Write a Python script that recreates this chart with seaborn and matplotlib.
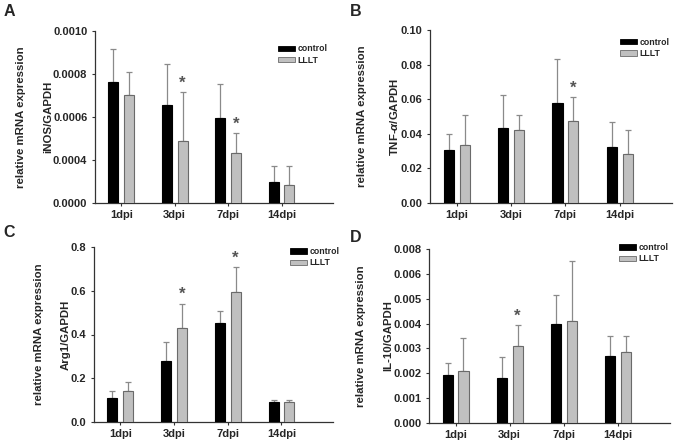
import numpy as np
import pandas as pd
import matplotlib
matplotlib.use("Agg")
import matplotlib.pyplot as plt
import seaborn as sns
from matplotlib.patches import Patch

sns.set_style("white")
plt.rcParams['font.family'] = ['Liberation Sans', 'DejaVu Sans']
plt.rcParams['font.weight'] = 'bold'
plt.rcParams['mathtext.fontset'] = 'custom'
plt.rcParams['mathtext.it'] = 'Liberation Sans:bold:italic'
plt.rcParams['mathtext.rm'] = 'Liberation Sans:bold'

days = ["1dpi", "3dpi", "7dpi", "14dpi"]
groups = ["control", "LLLT"]

# Panel A: iNOS
inos_ctrl = [0.000761, 0.000653, 0.000595, 0.000296]
inos_ctrl_err = [0.000155, 0.000190, 0.000158, 0.000076]
inos_lllt = [0.000702, 0.000485, 0.000431, 0.000281]
inos_lllt_err = [0.000104, 0.000228, 0.000093, 0.000091]
inos_sig = [False, True, True, False]

# Panel B: TNF-alpha
tnf_ctrl = [0.0305, 0.043, 0.058, 0.0325]
tnf_ctrl_err = [0.009, 0.0195, 0.025, 0.0145]
tnf_lllt = [0.0335, 0.042, 0.0475, 0.028]
tnf_lllt_err = [0.0172, 0.0086, 0.0135, 0.0141]
tnf_sig = [False, False, True, False]

# Panel C: Arg1
arg_ctrl = [0.107, 0.278, 0.454, 0.090]
arg_ctrl_err = [0.035, 0.086, 0.052, 0.009]
arg_lllt = [0.139, 0.428, 0.594, 0.089]
arg_lllt_err = [0.041, 0.114, 0.117, 0.011]
arg_sig = [False, True, True, False]

# Panel D: IL-10
il_ctrl = [0.00191, 0.00182, 0.00397, 0.00269]
il_ctrl_err = [0.00050, 0.00084, 0.00119, 0.00082]
il_lllt = [0.00209, 0.00308, 0.00410, 0.00284]
il_lllt_err = [0.00134, 0.00086, 0.00244, 0.00067]
il_sig = [False, True, False, False]

ticks_A = [0.0002, 0.0004, 0.0006, 0.0008, 0.0010]
labels_A = ["0.0000", "0.0004", "0.0006", "0.0008", "0.0010"]
ticks_B = [0.0, 0.02, 0.04, 0.06, 0.08, 0.10]
labels_B = ["0.00", "0.02", "0.04", "0.06", "0.08", "0.10"]
ticks_C = [0.0, 0.2, 0.4, 0.6, 0.8]
labels_C = ["0.0", "0.2", "0.4", "0.6", "0.8"]
ticks_D = [0.0, 0.001, 0.002, 0.003, 0.004, 0.005, 0.006, 0.007]
labels_D = ["0.000", "0.001", "0.002", "0.003", "0.004", "0.005", "0.006", "0.008"]

CTRL_COLOR = "#000000"
LLLT_COLOR = "#c0c0c0"
LLLT_EDGE = "#6a6a6a"
ERR_COLOR = "#8a8a8a"

W, H = 675, 446
fig = plt.figure(figsize=(W / 100, H / 100), dpi=100)


def px_axes(left, top, right, bottom):
    return fig.add_axes([left / W, 1 - bottom / H, (right - left) / W, (bottom - top) / H])


panels = [
    dict(box=(95, 30.7, 333, 202.7), ctrl=inos_ctrl, ce=inos_ctrl_err, lllt=inos_lllt, le=inos_lllt_err,
         sig=inos_sig, ticks=ticks_A, labels=labels_A, ylim=(0.0002, 0.0010),
         ylab="relative mRNA expression\niNOS/GAPDH", letter="A", lx=4, ly=12, leg=(0.77, 0.92)),
    dict(box=(430, 30.0, 672, 202.7), ctrl=tnf_ctrl, ce=tnf_ctrl_err, lllt=tnf_lllt, le=tnf_lllt_err,
         sig=tnf_sig, ticks=ticks_B, labels=labels_B, ylim=(0.0, 0.10),
         ylab="relative mRNA expression\nTNF-$\\alpha$/GAPDH", letter="B", lx=350, ly=12, leg=(0.785, 0.955)),
    dict(box=(94, 247.3, 333, 421.7), ctrl=arg_ctrl, ce=arg_ctrl_err, lllt=arg_lllt, le=arg_lllt_err,
         sig=arg_sig, ticks=ticks_C, labels=labels_C, ylim=(0.0, 0.8),
         ylab="relative mRNA expression\nArg1/GAPDH", letter="C", lx=3, ly=233, leg=(0.82, 1.0)),
    dict(box=(429, 249.3, 670, 422.7), ctrl=il_ctrl, ce=il_ctrl_err, lllt=il_lllt, le=il_lllt_err,
         sig=il_sig, ticks=ticks_D, labels=labels_D, ylim=(0.0, 0.007),
         ylab="relative mRNA expression\nIL-10/GAPDH", letter="D", lx=350, ly=237, leg=(0.79, 1.035)),
]

for p in panels:
    ax = px_axes(*p["box"])
    df = pd.DataFrame({
        "day": days * 2,
        "group": [groups[0]] * 4 + [groups[1]] * 4,
        "value": list(p["ctrl"]) + list(p["lllt"]),
    })
    sns.barplot(data=df, x="day", y="value", hue="group", order=days, hue_order=groups,
                palette=[CTRL_COLOR, LLLT_COLOR], errorbar=None, width=0.585, gap=0.36,
                linewidth=0.8, legend=False, ax=ax, zorder=3)
    bars = ax.patches
    xs_ctrl, xs_lllt = [], []
    for i, b in enumerate(bars):
        if i < 4:
            b.set_edgecolor("#000000")
            xs_ctrl.append(b.get_x() + b.get_width() / 2)
        else:
            b.set_edgecolor(LLLT_EDGE)
            xs_lllt.append(b.get_x() + b.get_width() / 2)
    for xs, vals, errs in [(xs_ctrl, p["ctrl"], p["ce"]), (xs_lllt, p["lllt"], p["le"])]:
        ax.errorbar(xs, vals, yerr=[np.zeros(len(errs)), errs], fmt="none", ecolor=ERR_COLOR,
                    elinewidth=0.9, capsize=2.5, capthick=0.9, zorder=2)
    for x, v, e, s in zip(xs_lllt, p["lllt"], p["le"], p["sig"]):
        if s:
            ax.annotate("*", xy=(x, v + e), xytext=(0, 1), textcoords="offset points",
                        ha="center", va="bottom", fontsize=12, color="#555555", fontweight="bold")
    ax.set_xlim(-0.49, 3.96)
    ax.set_ylim(*p["ylim"])
    ax.set_yticks(p["ticks"])
    ax.set_yticklabels(p["labels"])
    ax.set_xlabel("")
    ax.set_ylabel(p["ylab"], fontsize=8.2, fontweight="bold", linespacing=3.1, labelpad=0)
    for sp in ["top", "right"]:
        ax.spines[sp].set_visible(False)
    for sp in ["left", "bottom"]:
        ax.spines[sp].set_color("#333333")
        ax.spines[sp].set_linewidth(0.9)
    ax.tick_params(axis="both", which="both", labelsize=8, length=2.5, width=0.8,
                   color="#333333", pad=3, left=True, bottom=True, direction="out")
    for t in ax.get_xticklabels() + ax.get_yticklabels():
        t.set_fontweight("bold")
    handles = [Patch(facecolor=CTRL_COLOR, edgecolor="#000000", linewidth=0.6, label="control"),
               Patch(facecolor=LLLT_COLOR, edgecolor=LLLT_EDGE, linewidth=0.6, label="LLLT")]
    ax.legend(handles=handles, loc="upper left", bbox_to_anchor=p["leg"], frameon=False,
              prop={"weight": "bold", "size": 6.3}, handlelength=1.9, handleheight=0.6,
              handletextpad=0.3, labelspacing=0.25, borderaxespad=0, borderpad=0)
    fig.text(p["lx"] / W, 1 - p["ly"] / H, p["letter"], fontsize=11.5, fontweight="bold",
             ha="left", va="center")

fig.savefig("out.png", dpi=100)
